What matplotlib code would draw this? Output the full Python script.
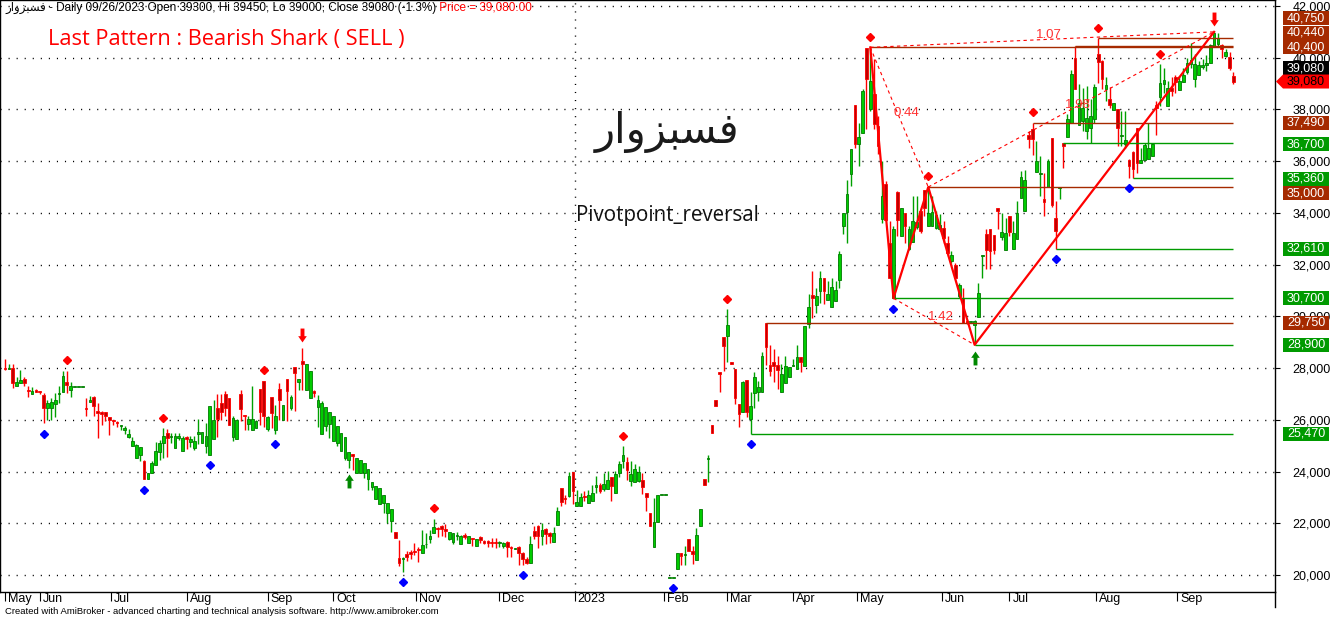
import matplotlib
matplotlib.use("Agg")
import matplotlib.pyplot as plt
import matplotlib.transforms as mtransforms
from matplotlib.patches import Rectangle, Polygon
from matplotlib.lines import Line2D
import numpy as np

plt.rcParams['font.family'] = ['Liberation Sans', 'DejaVu Sans']

# daily bars, May 2022 .. 26 Sep 2023
opens = [
    28000, 27980, 28000, 27290, 27420, 27570, 27160, 26990, 27160, 27120,
    26970, 26450, 26450, 26620, 27000, 27060, 27450, 27140, 27260, 27260,
    27260, 26450, 26680, 26880, 26360, 26300, 26310, 26100, 26000, 25910,
    25780, 25610, 25330, 24970, 24520, 24650, 24390, 23700, 23960, 24260,
    24770, 25100, 25490, 25320, 24900, 25290, 24810, 25330, 25160, 24900,
    25440, 25120, 25000, 24650, 25250, 26450, 26650, 27000, 26840, 25350,
    25250, 27000, 26180, 25850, 25590, 25680, 27190, 27510, 25640, 26880,
    25590, 27190, 26000, 27570, 26450, 28060, 27450, 28260, 27140, 26840,
    27120, 26490, 25460, 25770, 25850, 25200, 25100, 24810, 24520, 24450,
    24670, 23960, 23960, 23940, 23700, 23420, 22930, 22750, 22780, 22390,
    22070, 21650, 20650, 20630, 20810, 20900, 20940, 21020, 20870, 21180,
    21380, 21640, 21810, 21900, 21770, 21390, 21290, 21490, 21200, 21550,
    21250, 21420, 21120, 21460, 21330, 21320, 21290, 21260, 21240, 21120,
    21290, 21100, 21020, 21070, 20870, 20610, 20480, 21700, 21900, 21490,
    21770, 21640, 21290, 21940, 23350, 22980, 23060, 23970, 22670, 22670,
    23070, 22800, 22880, 23390, 23480, 23320, 23320, 23780, 23190, 23960,
    24390, 24360, 23640, 23600, 23640, 23670, 23190, 22410, 21100, 22050,
    23100, 23100, 19900, 19900, 20250, 20870, 20790, 21380, 20930, 20580,
    21900, 23700, 24480, 25800, 26760, 27830, 29190, 29250, 28220, 27960,
    26610, 26310, 27540, 26030, 27030, 27090, 27090, 29750, 28120, 28250,
    28120, 27060, 27420, 27640, 28070, 27960, 28410, 28070, 29700, 30840,
    30450, 30970, 31490, 30620, 30360, 30580, 31400, 33490, 34030, 35520,
    38190, 36650, 37100, 40390, 38000, 38580, 37360, 33770, 35100, 32840,
    30710, 34800, 33120, 34000, 32610, 32870, 33460, 34070, 34900, 33510,
    33490, 33420, 33360, 33420, 32840, 32130, 32000, 30780, 30710, 29810,
    29780, 29680, 29980, 32350, 33200, 33380, 33160, 34200, 33070, 32580,
    33870, 32610, 33000, 34580, 34070, 37030, 37230, 35580, 35510, 34520,
    35010, 36900, 33810, 34950, 36710, 36940, 37490, 40000, 37380, 37550,
    37160, 37290, 37640, 40130, 39870, 38780, 38410, 37980, 38000, 36970,
    36650, 36030, 36350, 37290, 35940, 36040, 36090, 36200, 38190, 38490,
    38970, 38130, 38840, 39270, 38750, 39060, 39450, 39740, 39190, 39320,
    39650, 39700, 39780, 40450, 40520, 40480, 40060, 40040, 39300,
]
highs = [
    28360, 28170, 28170, 27650, 27940, 27650, 27290, 27260, 27190, 27130,
    27030, 26750, 26840, 27030, 27290, 27870, 27900, 27450, 27260, 27260,
    27260, 26840, 26930, 26930, 26650, 26360, 26310, 26100, 26000, 25970,
    25810, 25770, 25640, 25330, 25070, 24940, 24450, 23960, 24390, 25160,
    25230, 25680, 25640, 25490, 25490, 25490, 25360, 25380, 25360, 25360,
    26020, 25510, 25870, 26540, 26770, 27000, 27000, 27100, 26840, 26130,
    26030, 27160, 26180, 26130, 27290, 26000, 27190, 27510, 26130, 26880,
    26580, 27420, 26580, 27570, 26970, 28060, 27570, 28770, 28170, 27870,
    27160, 26970, 26710, 26490, 26320, 26130, 25770, 25480, 25330, 24740,
    24670, 24520, 24430, 24320, 24090, 23610, 23460, 23380, 23100, 22780,
    22550, 21650, 21360, 20690, 20940, 20970, 21230, 21100, 21740, 21610,
    21740, 22170, 21870, 21940, 21970, 21680, 21640, 21680, 21550, 21610,
    21490, 21450, 21380, 21490, 21360, 21360, 21450, 21450, 21330, 21290,
    21330, 21120, 21050, 21120, 20900, 20710, 21490, 21900, 21940, 22030,
    21810, 21680, 21870, 22620, 23350, 23100, 24000, 23970, 23290, 23160,
    23260, 23290, 23480, 23810, 23570, 23940, 24030, 23780, 24030, 24410,
    24970, 24550, 24410, 24290, 24200, 23960, 23190, 22410, 22960, 23100,
    23100, 23100, 19900, 19900, 20870, 20870, 21120, 21380, 21120, 21830,
    22570, 23700, 24630, 25800, 26760, 27830, 29190, 30280, 28220, 27960,
    26610, 27510, 27540, 27090, 27830, 27510, 28630, 29750, 28890, 28740,
    28450, 28160, 28450, 28030, 28350, 28890, 28410, 29610, 30860, 31740,
    31100, 31740, 31490, 31360, 31490, 31360, 32520, 34000, 35290, 36480,
    38190, 37490, 38780, 40390, 40400, 39940, 37740, 36000, 35230, 33680,
    33490, 34840, 34200, 34000, 33490, 34650, 34650, 34070, 34900, 35000,
    34650, 34070, 33940, 33680, 33100, 32520, 32070, 31290, 31100, 29870,
    29810, 29870, 31290, 32390, 33380, 33380, 33160, 34200, 33980, 33810,
    33870, 33680, 34450, 35610, 35650, 37160, 37490, 36780, 36200, 35550,
    36090, 36900, 34450, 34970, 36710, 37810, 39520, 40440, 38970, 38840,
    38900, 38410, 38970, 40750, 39910, 39270, 38880, 38260, 38000, 37940,
    37940, 36070, 36390, 37290, 36520, 36710, 37490, 36710, 38320, 39740,
    39610, 39100, 39270, 39320, 39290, 39610, 40000, 40580, 40130, 39870,
    39960, 40090, 40550, 41000, 40970, 40520, 40350, 40220, 39450,
]
lows = [
    27940, 27960, 27230, 27290, 27420, 27290, 26900, 26990, 27060, 27000,
    25870, 26000, 26000, 26100, 26650, 27060, 27030, 26900, 27260, 27260,
    27260, 26130, 26680, 26160, 25280, 25810, 25940, 25420, 25810, 25710,
    25610, 25450, 25290, 24970, 24520, 24420, 23700, 23700, 23960, 24260,
    24450, 24520, 24560, 25100, 24900, 25230, 24810, 24860, 24940, 24840,
    25070, 25120, 24710, 24650, 25250, 25330, 26000, 26130, 25810, 25200,
    25250, 25940, 25610, 25610, 25590, 25680, 25810, 25740, 25550, 25680,
    25460, 26000, 26000, 25940, 26390, 26360, 27140, 27140, 27140, 26840,
    26880, 25740, 25460, 25550, 25290, 25200, 24970, 24810, 24430, 24130,
    24060, 23960, 23960, 23740, 23290, 23290, 22930, 22750, 22390, 22030,
    21680, 21420, 20350, 20130, 20560, 20610, 20770, 20510, 20870, 21030,
    21230, 21640, 21460, 21490, 21460, 21360, 21200, 21360, 21200, 21380,
    21250, 21120, 21120, 21230, 21200, 21070, 21100, 21030, 21100, 21030,
    20710, 20710, 21010, 20390, 20390, 20430, 20480, 21380, 21030, 21160,
    21200, 21230, 21290, 21940, 22670, 22750, 23030, 22750, 22650, 22670,
    22880, 22780, 22880, 23160, 23160, 23260, 23320, 22880, 23190, 23780,
    24130, 23680, 23450, 23600, 23580, 23120, 22480, 21900, 21100, 22050,
    23100, 23100, 19900, 19900, 20250, 20380, 20380, 20930, 20420, 20580,
    21900, 23490, 23600, 25490, 26520, 27060, 27900, 28220, 28170, 26610,
    25740, 26310, 26090, 25470, 26440, 26740, 27090, 28120, 27700, 27450,
    27210, 27060, 27420, 27640, 28070, 27960, 27860, 28070, 29540, 29940,
    30130, 30520, 30490, 30620, 30360, 30580, 31100, 33200, 32840, 35030,
    36520, 35810, 37100, 37230, 37940, 37230, 36260, 33620, 33680, 31490,
    30700, 33100, 33120, 32840, 32580, 32870, 33360, 33230, 33870, 33490,
    33490, 33360, 33290, 32840, 32320, 32070, 31490, 30710, 29750, 29720,
    29770, 28900, 29980, 31490, 31830, 31830, 32430, 33360, 32970, 32560,
    33100, 32610, 33000, 34580, 34070, 36520, 36220, 35580, 34650, 33870,
    35010, 34230, 32610, 34520, 35740, 36940, 37490, 38780, 37380, 37160,
    36840, 36700, 37460, 39030, 38800, 38320, 38070, 37980, 36580, 36580,
    36520, 35360, 35360, 35550, 35940, 36040, 36090, 36200, 37030, 38130,
    38650, 38130, 38520, 38620, 38750, 39060, 39360, 39610, 38880, 39320,
    39570, 39480, 39780, 40450, 40450, 40000, 40040, 39520, 39000,
]
closes = [
    27960, 28000, 27420, 27480, 27550, 27420, 27100, 27100, 27070, 27060,
    26450, 26650, 26670, 26770, 27030, 27680, 27360, 27290, 27260, 27260,
    27260, 26420, 26770, 26520, 26260, 26230, 26130, 26000, 25940, 25870,
    25810, 25680, 25460, 25200, 25030, 24940, 23700, 23960, 24320, 24800,
    25100, 25380, 25290, 25360, 25360, 25380, 25290, 25270, 25270, 25190,
    25520, 25510, 25360, 26520, 26000, 26030, 26320, 26450, 25810, 26060,
    26000, 26410, 26130, 26030, 26030, 25970, 26320, 26130, 26100, 26280,
    26160, 26770, 26580, 27100, 26880, 27810, 27570, 28150, 28170, 27870,
    27030, 26770, 26650, 26490, 26320, 26130, 25770, 25480, 25330, 24740,
    24610, 24520, 24430, 24320, 24090, 23610, 23460, 23380, 23100, 22780,
    22550, 21420, 20450, 20650, 20710, 20810, 20880, 20970, 21160, 21200,
    21520, 21850, 21770, 21770, 21720, 21650, 21610, 21550, 21510, 21460,
    21490, 21380, 21380, 21360, 21250, 21230, 21250, 21250, 21260, 21230,
    21100, 21030, 21030, 20870, 20610, 20480, 21200, 21510, 21490, 21740,
    21580, 21510, 21610, 22490, 22840, 22930, 23810, 23230, 22810, 23010,
    23030, 23100, 23160, 23480, 23260, 23520, 23680, 23440, 23910, 24280,
    24650, 24070, 23900, 24090, 23990, 23420, 23030, 21900, 22050, 23100,
    23100, 23100, 19900, 19900, 20870, 20740, 20810, 20930, 20810, 21540,
    22570, 23490, 24540, 25490, 26520, 27780, 28840, 29670, 28170, 26830,
    26220, 27450, 26290, 26520, 27640, 27250, 28450, 28800, 27900, 28090,
    27940, 27770, 28070, 28030, 28120, 28410, 28220, 29610, 30350, 30710,
    30780, 31490, 30970, 30880, 31140, 31010, 32430, 34000, 34750, 36480,
    36650, 36940, 38710, 39160, 39100, 37420, 36580, 34650, 33740, 31490,
    33360, 33720, 34200, 33490, 33380, 33680, 33640, 33290, 34200, 34000,
    34030, 33900, 33550, 33030, 32450, 32390, 31490, 31230, 29750, 29750,
    29800, 29830, 30910, 32390, 32580, 32520, 32560, 34070, 33270, 33230,
    33250, 33230, 33980, 35390, 35290, 36870, 36870, 36000, 35530, 34430,
    36000, 34290, 33290, 34970, 36580, 37640, 39390, 38780, 38260, 38070,
    37680, 37740, 38880, 39830, 39160, 38930, 38190, 38260, 37290, 37030,
    36800, 35810, 35700, 35940, 36060, 36610, 36520, 36650, 38060, 39010,
    39140, 38840, 38710, 39060, 39100, 39320, 39810, 39910, 39740, 39700,
    39700, 39780, 40480, 40970, 40770, 40350, 40220, 39610, 39080,
]

month_pos = [0, 9, 27.5, 47, 68, 85, 106.5, 128, 147.5, 170.5, 187, 204,
             220.5, 242.5, 260, 282.5, 303.5]
month_labels = ['May', 'Jun', 'Jul', 'Aug', 'Sep', 'Oct', 'Nov', 'Dec', '2023',
                'Feb', 'Mar', 'Apr', 'May', 'Jun', 'Jul', 'Aug', 'Sep']
year_break = 147.6

pivot_high_idx = [16, 41, 67, 111, 160, 187, 224, 239, 266, 283, 299]
pivot_low_idx = [10, 36, 53, 70, 103, 134, 173, 193, 230, 272, 291]
sell_idx = [77, 313]
buy_idx = [89, 251]

# harmonic points X A B C D
pattern_idx = [224, 230, 239, 251, 313]
pattern_px = [40400, 30700, 35000, 28900, 41000]
ratio_pairs = [(0, 2), (1, 3), (2, 4), (0, 4)]
ratio_text = ['0.44', '1.42', '1.98', '1.07']

# support / resistance levels
level_px = [40750, 40440, 40400, 37490, 36700, 35360, 35000, 32610, 30700, 29750, 28900, 25470]
level_from = [283, 277, 224, 266, 274, 292, 239, 272, 230, 197, 251, 193]
level_kind = ['r', 'r', 'r', 'r', 's', 's', 'r', 's', 's', 'r', 's', 's']
label_nudge = [-20, -13.5, 0, 0, 1, 1, 6, 0, 0, 0, 0, 0]   # px, keeps boxes apart
last_close = 39080

name_fa = "ﺭﺍﻭﺰﺒﺴﻓ"   # فسبزوار, pre-shaped for left-to-right drawing

BROWN = '#a52a00'
GREEN = '#009a00'

o = np.array(opens, float)
h = np.array(highs, float)
l = np.array(lows, float)
c = np.array(closes, float)
x = np.arange(len(c))
up = c >= o

fig = plt.figure(figsize=(13.36, 6.19), dpi=100)
ax = fig.add_axes([0, 27 / 619, 1275 / 1336, 592 / 619])
ymin, ymax = 19343, 42232
ax.set_xlim(-1.294, 328.76)
ax.set_ylim(ymin, ymax)
dpp = (ymax - ymin) / 592.0

# grid and axes
ax.set_yticks(range(20000, 42001, 2000))
ax.set_yticklabels([f"{v:,}" for v in range(20000, 42001, 2000)])
ax.yaxis.tick_right()
ax.grid(axis='y', color='k', linestyle=(0, (0.8, 5)), linewidth=1)
ax.axvline(year_break, color='k', linestyle=(0, (0.8, 5)), linewidth=1, zorder=1)
ax.tick_params(axis='y', length=3.6, width=0.8, pad=9, labelsize=9)
ax.set_xticks(month_pos)
ax.set_xticklabels(month_labels, ha='left', va='top')
ax.tick_params(axis='x', length=6.5, width=0.8, pad=-5.6, labelsize=9)
shift = mtransforms.ScaledTranslation(3 / 100, 0, fig.dpi_scale_trans)
for lab in ax.get_xticklabels():
    lab.set_transform(lab.get_transform() + shift)
for s in ax.spines.values():
    s.set_linewidth(1)
fig.add_artist(Line2D([1275 / 1336] * 2, [1 - 592 / 619, 1 - 607 / 619],
                      transform=fig.transFigure, color='k', lw=1))

# candles
ax.vlines(x, l, h, colors=list(np.where(up, '#00a000', '#ff0000')), linewidth=1, zorder=2)
ax.bar(x, np.maximum(np.abs(c - o), 35), bottom=np.minimum(o, c), width=0.7,
       color=list(np.where(up, '#00cc00', '#c00000')),
       edgecolor=list(np.where(up, '#007a00', '#ff0000')), linewidth=0.6, zorder=3)

# levels
last_i = len(c) - 1
for p, i0, k in zip(level_px, level_from, level_kind):
    ax.hlines(p, i0, last_i, colors=BROWN if k == 'r' else GREEN, linewidth=1, zorder=4)

# pattern
ax.plot(pattern_idx, pattern_px, color='#ff0000', lw=1.6, zorder=5)
for (a, b), t in zip(ratio_pairs, ratio_text):
    ax.plot([pattern_idx[a], pattern_idx[b]], [pattern_px[a], pattern_px[b]],
            color='#ff0000', lw=0.8, ls=(0, (3, 3)), zorder=5)
    mx = (pattern_idx[a] + pattern_idx[b]) / 2
    my = (pattern_px[a] + pattern_px[b]) / 2
    ax.annotate(t, (mx, my), xytext=(5, 3.3), textcoords='offset points',
                ha='center', va='center', color='#ff3030', fontsize=9.5, zorder=6)

# pivots and signals
def shifted(pt):
    return mtransforms.offset_copy(ax.transData, fig=fig, y=pt, units='points')

ax.plot(pivot_low_idx, l[pivot_low_idx], 'D', ms=4.5, color='#0000ff', ls='none',
        transform=shifted(-7.6), zorder=6)
ax.plot(pivot_high_idx, h[pivot_high_idx], 'D', ms=4.5, color='#ff0000', ls='none',
        transform=shifted(7.6), zorder=6)
arrow_dn = [(-0.28, 1), (0.28, 1), (0.28, -0.1), (0.62, -0.1), (0, -1),
            (-0.62, -0.1), (-0.28, -0.1), (-0.28, 1)]
arrow_up = [(ax_, -ay_) for ax_, ay_ in arrow_dn]
ax.plot(sell_idx, h[sell_idx], marker=arrow_dn, ms=10, ls='none', color='#ff0000',
        mew=0, transform=shifted(9.4), zorder=7)
ax.plot(buy_idx, l[buy_idx], marker=arrow_up, ms=10, ls='none', color='#008800',
        mew=0, transform=shifted(-9.4), zorder=7)

# value boxes on the price axis
ytr = ax.get_yaxis_transform()
bx0, bw, bh = 1283 / 1275, 46 / 1275, 14 * dpp
for p, k, nd in zip(level_px, level_kind, label_nudge):
    yc = p - nd * dpp
    ax.add_patch(Rectangle((bx0, yc - bh / 2), bw, bh, transform=ytr,
                           facecolor=BROWN if k == 'r' else GREEN, edgecolor='none',
                           clip_on=False, zorder=10))
    ax.text(1306 / 1275, yc, f"{p:,}", transform=ytr, ha='center', va='center',
            color='white', fontsize=9, clip_on=False, zorder=11)
yc = last_close + 13.5 * dpp
ax.add_patch(Rectangle((bx0, yc - bh / 2), bw, bh, transform=ytr, facecolor='black',
                       edgecolor='none', clip_on=False, zorder=10))
ax.text(1306 / 1275, yc, f"{last_close:,}", transform=ytr, ha='center', va='center',
        color='white', fontsize=9, clip_on=False, zorder=11)
yc = last_close
ax.add_patch(Polygon([(1276 / 1275, yc), (bx0, yc + bh / 2), (bx0 + bw, yc + bh / 2),
                      (bx0 + bw, yc - bh / 2), (bx0, yc - bh / 2)], closed=True,
                     transform=ytr, facecolor='#ff0000', edgecolor='none',
                     clip_on=False, zorder=10))
ax.text(1306 / 1275, yc, f"{last_close:,}", transform=ytr, ha='center', va='center',
        color='black', fontsize=9, clip_on=False, zorder=11)

# texts
t1 = fig.text(5 / 1336, 1 - 8 / 619,
              name_fa + " - Daily 09/26/2023 Open 39300, Hi 39450, Lo 39000, Close 39080 (-1.3%)",
              fontsize=8.5, va='center', ha='left')
ax.annotate(" Price = 39,080.00", xy=(1, 0.5), xycoords=t1, va='center', ha='left',
            fontsize=8.5, color='#ff0000', annotation_clip=False)
fig.text(48 / 1336, 1 - 40 / 619, "Last Pattern : Bearish Shark ( SELL )",
         fontsize=15.7, color='#ff0000', va='center', ha='left', family=['Open Sans', 'DejaVu Sans'])
fig.text(667 / 1336, 1 - 132 / 619, name_fa, fontsize=30, color='#1a1a1a',
         va='center', ha='center', family=['DejaVu Sans'])
fig.text(576 / 1336, 1 - 216 / 619, "Pivotpoint_reversal", fontsize=14.8,
         color='#111111', va='center', ha='left', family=['Open Sans', 'DejaVu Sans'])
fig.text(5 / 1336, 1 - 612 / 619,
         "Created with AmiBroker - advanced charting and technical analysis software. http://www.amibroker.com",
         fontsize=6.8, va='center', ha='left', family=['Liberation Sans Narrow', 'Liberation Sans'])

fig.savefig("out.png", dpi=100)
